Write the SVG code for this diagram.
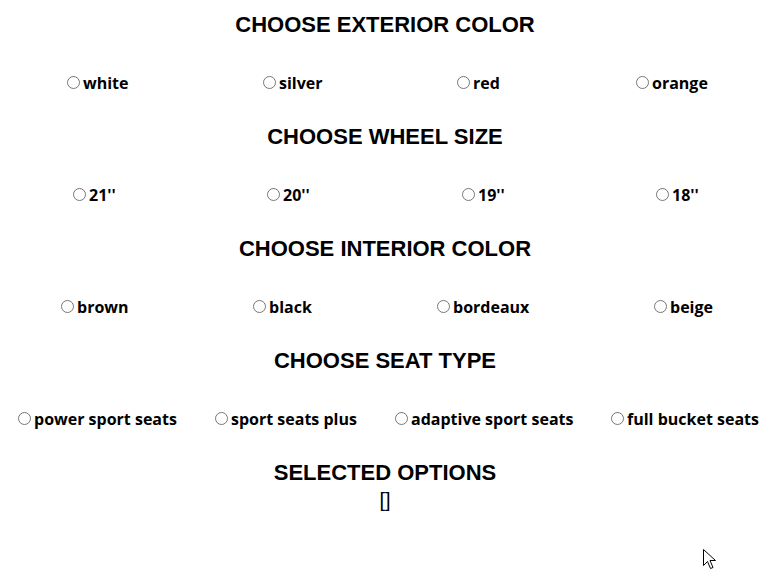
<svg xmlns="http://www.w3.org/2000/svg" width="769" height="577" viewBox="0 0 769 577">
<style>
.h{font-family:"Liberation Sans",Arial,sans-serif;font-weight:bold;font-size:22px;fill:#000;text-anchor:middle}
.b{font-family:"Liberation Sans",Arial,sans-serif;font-size:20px;fill:#000;text-anchor:middle}
.l{font-family:"Open Sans","Noto Sans",sans-serif;font-weight:bold;font-size:16px;fill:#000}
.r{fill:#fff;stroke:#767676;stroke-width:1}
</style>
<rect width="769" height="577" fill="#fff"/>
<g id="exterior">
<text class="h" x="385" y="32">CHOOSE EXTERIOR COLOR</text>
<circle class="r" cx="73.5" cy="82.5" r="6"/><text class="l" x="83" y="89">white</text>
<circle class="r" cx="269.5" cy="82.5" r="6"/><text class="l" x="279" y="89">silver</text>
<circle class="r" cx="463.5" cy="82.5" r="6"/><text class="l" x="473" y="89">red</text>
<circle class="r" cx="642.5" cy="82.5" r="6"/><text class="l" x="652" y="89">orange</text>
</g>
<g id="wheel">
<text class="h" x="385" y="144">CHOOSE WHEEL SIZE</text>
<circle class="r" cx="79.5" cy="194.5" r="6"/><text class="l" x="89" y="201">21''</text>
<circle class="r" cx="273.5" cy="194.5" r="6"/><text class="l" x="283" y="201">20''</text>
<circle class="r" cx="468.5" cy="194.5" r="6"/><text class="l" x="478" y="201">19''</text>
<circle class="r" cx="662.5" cy="194.5" r="6"/><text class="l" x="672" y="201">18''</text>
</g>
<g id="interior">
<text class="h" x="385" y="256">CHOOSE INTERIOR COLOR</text>
<circle class="r" cx="67.5" cy="306.5" r="6"/><text class="l" x="77" y="313">brown</text>
<circle class="r" cx="259.5" cy="306.5" r="6"/><text class="l" x="269" y="313">black</text>
<circle class="r" cx="443.5" cy="306.5" r="6"/><text class="l" x="453" y="313">bordeaux</text>
<circle class="r" cx="660.5" cy="306.5" r="6"/><text class="l" x="670" y="313">beige</text>
</g>
<g id="seat">
<text class="h" x="385" y="368">CHOOSE SEAT TYPE</text>
<circle class="r" cx="24.5" cy="418.5" r="6"/><text class="l" x="34" y="425">power sport seats</text>
<circle class="r" cx="221.5" cy="418.5" r="6"/><text class="l" x="231" y="425">sport seats plus</text>
<circle class="r" cx="401.5" cy="418.5" r="6"/><text class="l" x="411" y="425">adaptive sport seats</text>
<circle class="r" cx="617.5" cy="418.5" r="6"/><text class="l" x="627" y="425">full bucket seats</text>
</g>
<g id="selected">
<text class="h" x="385" y="480">SELECTED OPTIONS</text>
<text class="b" x="385" y="507">[]</text>
</g>
<path d="M703.5,549.5 L703.5,565.5 L707.5,561.5 L710.5,568.5 L713,567.5 L710,560.5 L715.5,560.5 Z" fill="#fff" stroke="#000" stroke-width="1" stroke-linejoin="round"/>
</svg>
